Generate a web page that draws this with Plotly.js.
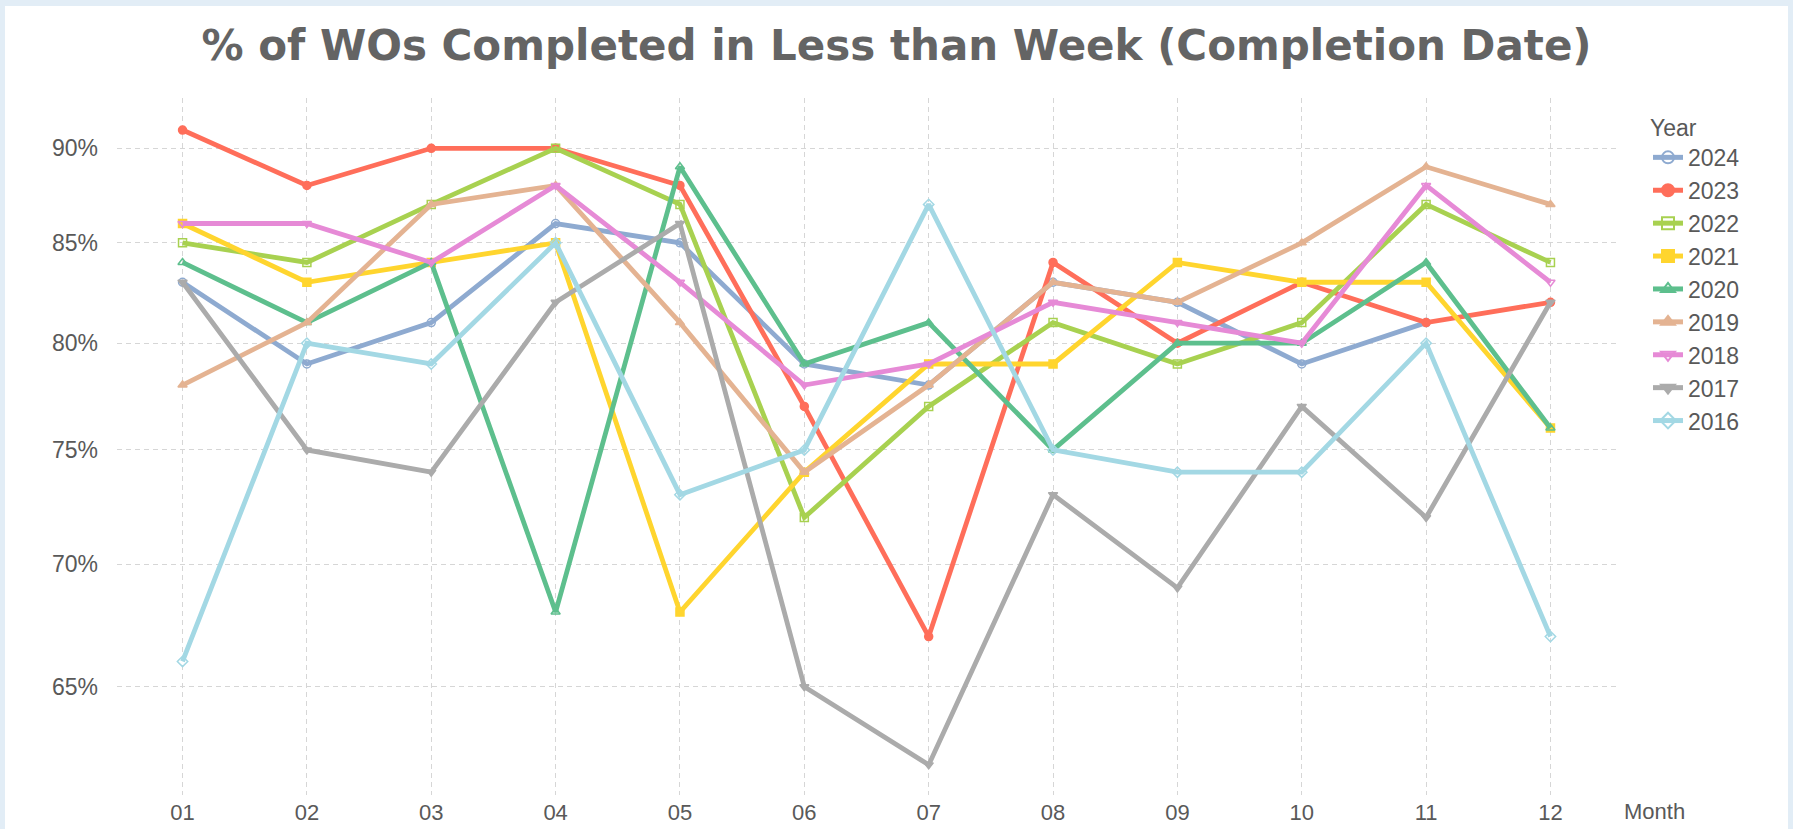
<!DOCTYPE html>
<html>
<head>
<meta charset="utf-8">
<script src="https://cdn.plot.ly/plotly-3.0.1.min.js"></script>
<style>
  html, body { margin: 0; padding: 0; background: #e2edf6; width: 1793px; height: 829px; overflow: hidden; }
  #chart { position: absolute; left: 5px; top: 6px; width: 1783px; height: 823px; background: #ffffff; }
</style>
</head>
<body>
<div id="chart"></div>
<script>
// ---- data (percent values) ----
const months = ['01','02','03','04','05','06','07','08','09','10','11','12'];
const years  = ['2024','2023','2022','2021','2020','2019','2018','2017','2016'];

const y2024 = [83, 79, 81, 86, 85, 79, 78, 83, 82, 79, 81, null];
const y2023 = [91, 88, 90, 90, 88, 77, 67, 84, 80, 83, 81, 82];
const y2022 = [85, 84, 87, 90, 87, 72, 77, 81, 79, 81, 87, 84];
const y2021 = [86, 83, 84, 85, 68, 74, 79, 79, 84, 83, 83, 76];
const y2020 = [84, 81, 84, 68, 89, 79, 81, 75, 80, 80, 84, 76];
const y2019 = [78, 81, 87, 88, 81, 74, 78, 83, 82, 85, 89, 87];
const y2018 = [86, 86, 84, 88, 83, 78, 79, 82, 81, 80, 88, 83];
const y2017 = [83, 75, 74, 82, 86, 65, 62, 73, 69, 77, 72, 82];
const y2016 = [66, 80, 79, 85, 73, 75, 87, 75, 74, 74, 80, 67];

const yTicks = [0.65, 0.70, 0.75, 0.80, 0.85, 0.90];

// ---- styling ----
const seriesValues = [y2024, y2023, y2022, y2021, y2020, y2019, y2018, y2017, y2016];
const colors  = ['#8eaad0', '#ff6e5a', '#a8d150', '#ffd52e', '#5dbf8d', '#e4b392', '#e68ad6', '#ababab', '#a3d8e4'];
const symbols = ['circle-open', 'circle', 'square-open', 'square', 'triangle-up-open', 'triangle-up',
                 'triangle-down-open', 'triangle-down', 'diamond-open'];

const traces = years.map((yr, i) => ({
  type: 'scatter',
  mode: 'lines+markers',
  name: yr,
  x: months,
  y: seriesValues[i].map(v => v == null ? null : v / 100),
  connectgaps: false,
  line: { color: colors[i], width: 4.8 },
  marker: { color: colors[i], symbol: symbols[i], size: 8, line: { color: colors[i], width: 1.5 } },
  hovertemplate: '%{x}: %{y:.0%}<extra>' + yr + '</extra>'
}));

const tickFont = { family: 'Liberation Sans, Arial, sans-serif', size: 22, color: '#595959' };

const layout = {
  width: 1783,
  height: 823,
  paper_bgcolor: '#ffffff',
  plot_bgcolor: '#ffffff',
  margin: { l: 112, r: 172, t: 92, b: 34 },
  title: {
    text: '% of WOs Completed in Less than Week (Completion Date)',
    font: { family: 'DejaVu Sans, Verdana, sans-serif', size: 42, weight: 'bold', color: '#646464' },
    x: 0.5, xanchor: 'center', xref: 'container',
    y: 1 - 39 / 823, yanchor: 'middle', yref: 'container'
  },
  xaxis: {
    type: 'category',
    categoryorder: 'array',
    categoryarray: months,
    range: [-0.527, 11.527],
    showgrid: true,
    gridcolor: '#d6d6d6',
    gridwidth: 1,
    griddash: '5px,4px',
    zeroline: false,
    showline: false,
    ticks: '',
    ticklabelstandoff: 2,
    tickfont: tickFont,
    fixedrange: true
  },
  yaxis: {
    type: 'log',
    range: [-0.215515, -0.032554],
    tickvals: yTicks,
    tickformat: '.0%',
    showgrid: true,
    gridcolor: '#d6d6d6',
    gridwidth: 1,
    griddash: '5px,4px',
    zeroline: false,
    showline: false,
    ticks: '',
    ticklabelstandoff: 18,
    tickfont: Object.assign({}, tickFont, { size: 23 }),
    fixedrange: true
  },
  showlegend: true,
  legend: {
    title: { text: 'Year', font: { family: 'Liberation Sans, Arial, sans-serif', size: 23, color: '#595959' } },
    font: { family: 'Liberation Sans, Arial, sans-serif', size: 23, color: '#595959' },
    xref: 'container', yref: 'container',
    x: 1643 / 1783, xanchor: 'left',
    y: 1 - 100 / 823, yanchor: 'top',
    bgcolor: 'rgba(0,0,0,0)',
    itemsizing: 'constant',
    tracegroupgap: 0
  },
  annotations: [{
    text: 'Month',
    xref: 'paper', yref: 'paper',
    x: (1622 - 117) / (1616 - 117), xanchor: 'left',
    y: -16 / 697, yanchor: 'middle',
    showarrow: false,
    font: tickFont
  }]
};

Plotly.newPlot('chart', traces, layout, { displayModeBar: false, staticPlot: true });
</script>
</body>
</html>
